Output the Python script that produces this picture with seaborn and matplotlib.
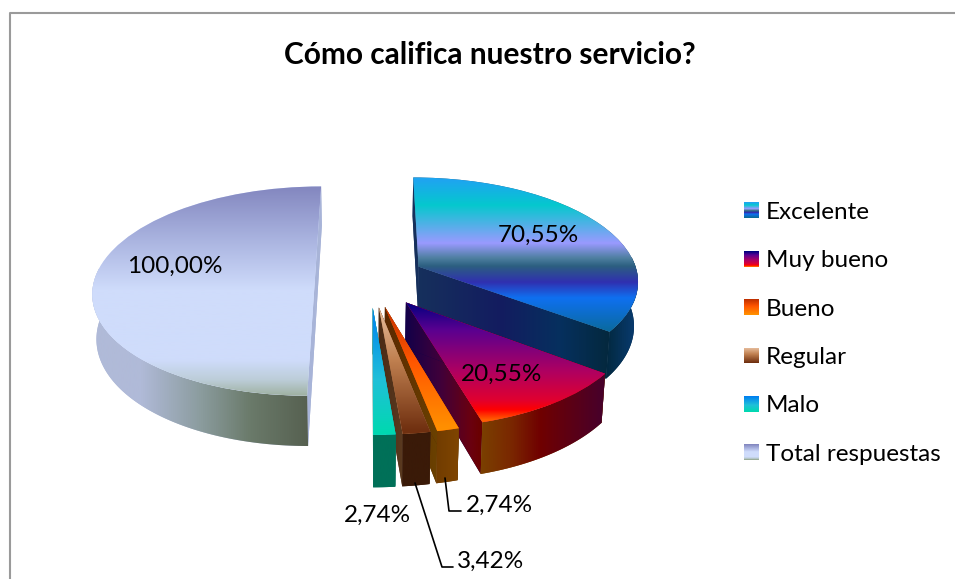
# -*- coding: utf-8 -*-
import numpy as np
import matplotlib
matplotlib.use("Agg")
import matplotlib.pyplot as plt
import matplotlib.transforms as mtransforms
from matplotlib.colors import LinearSegmentedColormap
from matplotlib.legend_handler import HandlerPatch
from matplotlib.patches import Polygon, Rectangle
import seaborn as sns

# Datos
categorias = ["Excelente", "Muy bueno", "Bueno", "Regular", "Malo", "Total respuestas"]
porcentajes = [70.55, 20.55, 2.74, 3.42, 2.74, 100.00]
separacion = [0.25, 0.28, 0.28, 0.28, 0.28, 0.25]
titulo = "Cómo califica nuestro servicio?"

# Perspectiva del plano de la torta (pixeles de la imagen)
CX, CY = 370, 278
RX, RY = 220, 103
P = 0.125
ALTO = 44

# Degradados: (posicion en pixeles, color)
cara = [
    [(180, "#1EA5F0"), (205, "#05C8CE"), (243, "#9A9AFF"), (258, "#4E7FA0"), (266, "#2C5F80"),
     (282, "#3030B0"), (298, "#0F70F0"), (333, "#0A6A9A")],
    [(302, "#000080"), (330, "#5A0090"), (372, "#B00060"), (400, "#E00030"), (410, "#FF0000"), (420, "#FF6000")],
    [(306, "#C03000"), (360, "#FF5500"), (428, "#FF9000")],
    [(306, "#E8C0A0"), (360, "#C08050"), (430, "#703010")],
    [(309, "#0080F0"), (380, "#20C0D8"), (433, "#00D8B0")],
    [(188, "#8488C0"), (240, "#AAB4E0"), (290, "#CFDCFB"), (360, "#CFDCFB"), (380, "#BCCDD8"), (398, "#9BAD9A")],
]
corte = [
    [(418, "#16305C"), (500, "#131C60"), (560, "#06305E"), (611, "#04283C")],
    [(403, "#10004A"), (440, "#40003A"), (470, "#6A0010"), (480, "#6A0000")],
    [(384, "#5A2800"), (435, "#6A4000")],
    [(378, "#4A2A14"), (402, "#5A3A20")],
    [(373, "#007058"), (396, "#007058")],
    [(300, "#A8B4D8"), (325, "#A8B4D8")],
]
pared = [
    [(605, "#02283E"), (640, "#0A3E78")],
    [(476, "#7A4400"), (510, "#7A2800"), (540, "#700000"), (601, "#48002A")],
    [(430, "#6E3A00"), (458, "#7F4500")],
    [(400, "#3A1A08"), (431, "#3A1A08")],
    [(372, "#007058"), (397, "#007058")],
    [(93, "#B0BAD8"), (140, "#B0BAD8"), (200, "#8B9C9E"), (250, "#6A7A6A"), (308, "#566050")],
]
# De atras hacia adelante: la tapa de cada porcion tapa el corte de la anterior
orden = [5, 0, 1, 2, 3, 4]


class Inclinacion(mtransforms.Transform):
    input_dims = 2
    output_dims = 2

    def transform_non_affine(self, xy):
        xy = np.asarray(xy, dtype=float)
        s = 1 / (1 + P * xy[:, 1])
        return np.column_stack([CX + RX * xy[:, 0] * s, CY - RY * xy[:, 1] * s])


class ClaveDegradado(HandlerPatch):
    def __init__(self, cmap):
        super().__init__()
        self.cmap = cmap

    def create_artists(self, legend, orig_handle, xdescent, ydescent, width, height, fontsize, trans):
        n = 16
        tiras = []
        for i in range(n):
            r = Rectangle((-xdescent, -ydescent + height * (n - 1 - i) / n), width, height / n * 1.1,
                          facecolor=self.cmap(i / (n - 1)), edgecolor="none", transform=trans)
            tiras.append(r)
        return tiras


def hacer_cmap(stops):
    ini, fin = stops[0][0], stops[-1][0]
    return LinearSegmentedColormap.from_list("g", [((p - ini) / (fin - ini), c) for p, c in stops], N=512)


def pintar(stops, clip, zorder, vertical=True):
    # Se extiende el degradado a toda la imagen para que no queden huecos
    limite = 579 if vertical else 955
    stops = [(-1, stops[0][1])] + stops + [(limite + 1, stops[-1][1])]
    ini, fin = stops[0][0], stops[-1][0]
    rampa = np.linspace(0, 1, 1024)
    if vertical:
        im = ax.imshow(rampa[:, None], cmap=hacer_cmap(stops), vmin=0, vmax=1, aspect="auto",
                       extent=(0, 955, fin, ini), origin="upper", zorder=zorder)
    else:
        im = ax.imshow(rampa[None, :], cmap=hacer_cmap(stops), vmin=0, vmax=1, aspect="auto",
                       extent=(ini, fin, 579, 0), origin="upper", zorder=zorder)
    im.set_clip_path(clip)


def extruir(plano):
    plano = np.asarray(plano)
    arriba = Inclinacion().transform(plano)
    s = 1 / (1 + P * plano[:, 1])
    abajo = np.column_stack([CX + (arriba[:, 0] - CX) * 0.985, arriba[:, 1] + ALTO * s])
    return np.vstack([arriba, abajo[::-1]])


def cara_lateral(plano, stops, zorder):
    poligono = Polygon(extruir(plano), closed=True, facecolor=stops[0][1], edgecolor="none", zorder=zorder)
    ax.add_patch(poligono)
    pintar(stops, poligono, zorder, vertical=False)


sns.set_theme(style="white")
plt.rcParams["font.family"] = ["Lato", "DejaVu Sans"]

fig = plt.figure(figsize=(9.55, 5.79), dpi=100)
ax = fig.add_axes([0, 0, 1, 1])

colores = sns.color_palette([c[len(c) // 2][1] for c in cara])
wedges, _ = ax.pie(porcentajes, explode=separacion, colors=colores, startangle=90, counterclock=False,
                   labeldistance=None, wedgeprops={"linewidth": 0, "edgecolor": "none"})

# Cada porcion: caras laterales y luego la tapa con su degradado
for paso, i in enumerate(orden):
    w = wedges[i]
    z = 2 + paso * 2
    w.set_transform(Inclinacion() + ax.transData)
    w.set_zorder(z + 1)
    centro = np.array(w.center)
    t = np.radians(np.linspace(w.theta1, w.theta2, 240))
    arco = centro + np.column_stack([np.cos(t), np.sin(t)])
    cara_lateral(np.array([centro, arco[0]]), corte[i], z)
    cara_lateral(np.array([centro, arco[-1]]), corte[i], z)
    # Solo se ve la pared de la parte delantera del arco
    cara_lateral(arco[np.sin(t) < 0.1], pared[i], z + 0.5)
    pintar(cara[i], w, z + 1.5)

# Etiquetas de porcentaje
etiquetas = [f"{v:.2f}".replace(".", ",") + "%" for v in porcentajes]
pos_etiquetas = [(538, 235), (502, 374), (499, 505), (491, 561), (377, 515), (175, 266)]
for texto, (x, y) in zip(etiquetas, pos_etiquetas):
    ax.text(x, y, texto, ha="center", va="center", fontsize=17.5, color="black", zorder=30)

# Lineas guia
ax.plot([445, 449, 461], [478, 511, 511], color="black", lw=1.2, zorder=30)
ax.plot([415, 442, 453], [483, 567, 567], color="black", lw=1.2, zorder=30)

ax.text(490, 55, titulo, ha="center", va="center", fontsize=21.5, fontweight="bold", color="black")

# Leyenda
leyenda = ax.legend(wedges, categorias, loc="upper left", bbox_to_anchor=(744, 202), bbox_transform=ax.transData,
                    frameon=False, fontsize=17.5, borderpad=0, borderaxespad=0, handlelength=0.62, handleheight=0.62,
                    handletextpad=0.29, labelspacing=1.125, labelcolor="black",
                    handler_map={w: ClaveDegradado(hacer_cmap(c)) for w, c in zip(wedges, cara)})
leyenda.set_zorder(30)

# Borde del grafico
ax.plot([9.5, 9.5, 955], [579, 12.5, 12.5], color="#9A9A9A", lw=1.5, zorder=1)

ax.set_aspect("auto")
ax.set_xlim(0, 955)
ax.set_ylim(579, 0)
ax.axis("off")

fig.savefig("out.png", dpi=100, facecolor="white")
